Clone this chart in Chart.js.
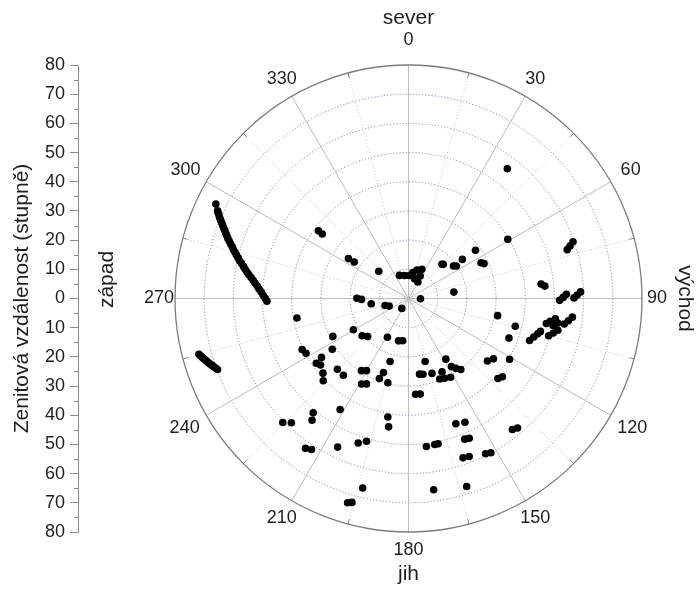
<!DOCTYPE html>
<html>
<head>
<meta charset="utf-8">
<script src="https://cdn.jsdelivr.net/npm/chart.js@4.4.0/dist/chart.umd.min.js"></script>
<style>
  html, body { margin: 0; padding: 0; background: #fff; }
</style>
</head>
<body>
<canvas id="plot" width="696" height="590"></canvas>
<script>
// azimuth (deg, 0 = sever, clockwise) and zenith distance (deg)
const track = [
  [296.1,73.5],
  [294.7,72.0],[294.3,71.6],[293.8,71.0],[293.2,70.4],[292.7,69.8],[292.1,69.1],[291.6,68.5],
  [291.0,67.9],[290.4,67.2],[289.7,66.5],[289.1,65.9],[288.4,65.2],[287.8,64.5],[287.1,63.8],
  [286.4,63.0],[285.6,62.3],[284.9,61.5],[284.2,60.8],[283.4,60.0],[282.6,59.3],[281.9,58.5],
  [281.0,57.6],[280.2,56.9],[279.3,56.1],[278.5,55.3],[277.6,54.4],[276.7,53.6],[275.7,52.8],
  [274.7,52.0],[273.6,51.3],[272.5,50.5],[271.3,49.8],[270.1,49.1],[268.9,48.5]
];
const streak = [
  [255.1,74.3],[254.6,73.9],[254.1,73.5],[253.6,73.1],[253.1,72.7],[252.6,72.3],
  [252.1,71.9],[251.6,71.5],[251.1,71.0],[250.6,70.6],[250.1,70.2],[249.6,69.8]
];
const dotsNorth = [
  [338.6,8.5],[350.0,8.0],[2.2,7.9],[9.6,9.0],[16.5,10.2],[24.7,11.0],[17.0,7.1],[29.7,6.5],[27.5,8.7],
  [37.3,55.9],[44.3,16.4],[45.5,16.7],[54.2,19.0],[55.8,19.8],[54.0,22.8],[54.2,28.3],
  [63.8,27.7],[65.2,28.5],[59.2,39.6],[72.9,56.9],[72.0,58.2],[71.0,59.6],
  [306.9,38.6],[306.8,36.9],[303.6,24.7],[303.9,22.4],[312.4,13.8]
];
const dotsEast = [
  [83.8,45.7],[84.8,46.9],[90.7,51.8],[89.6,53.0],[88.5,54.1],[89.8,56.7],[88.8,57.8],[87.8,59.0],
  [91.0,4.1],[82.0,15.7],[100.9,31.1],[104.6,37.8],[111.5,37.0],
  [100.3,48.0],[99.1,49.2],[97.9,50.8],[100.6,50.4],[99.3,51.8],[99.3,54.1],[97.9,55.3],[96.5,56.5],
  [104.9,49.7],[103.4,51.0],[102.0,52.3],[109.1,43.9],[107.1,44.9],[105.3,45.9],[104.0,46.6]
];
const dotsSouth = [
  [128.4,34.5],[125.4,35.7],[121.0,40.4],[131.8,41.1],[129.8,41.9],[141.6,57.3],[139.9,58.0],
  [153.6,59.4],[151.9,59.9],[162.8,67.4],[172.5,66.1],[161.1,57.7],[159.0,58.0],
  [158.2,51.9],[156.5,52.2],[159.3,45.9],[155.5,46.6],[173.1,51.1],[169.8,50.8],[168.5,50.8],
  [175.8,32.9],[173.0,33.0],[165.2,22.3],[148.4,24.4],[171.7,26.2],[169.2,26.4],[162.6,26.9],
  [155.4,27.6],[147.8,27.6],[145.9,28.9],[143.6,30.2],[158.8,29.6],[155.7,30.0],[151.9,30.6]
];
const dotsWest = [
  [214.0,4.1],[193.2,14.9],[187.8,14.6],[208.6,15.1],[253.3,8.4],[248.5,7.1],[262.0,12.9],
  [270.3,17.7],[268.9,16.1],[231.2,20.4],[227.1,19.1],[240.5,21.7],[243.4,29.0],[236.3,31.4],
  [260.1,38.8],[244.4,40.4],[241.9,39.8],[235.9,36.0],[234.9,38.6],[232.9,37.8],[228.9,38.9],
  [226.0,40.6],[225.1,34.4],[220.3,34.5],[213.1,29.5],[210.2,28.6],[208.8,33.4],[206.2,32.6],
  [198.7,26.8],[200.0,29.2],[193.8,29.7],[196.3,22.5],[211.6,44.7],[219.8,51.0],[218.4,53.2],
  [225.4,60.5],[223.3,58.5],[214.5,62.3],[212.7,61.5],[205.5,56.4],[199.2,52.4],[196.4,51.0],
  [189.9,41.2],[188.8,44.5],[193.6,66.8],[196.6,73.0],[195.5,72.5]
];

const angleLabels = [0, 30, 60, 90, 120, 150, 180, 210, 240, 270, 300, 330];
const ringValues = [10, 20, 30, 40, 50, 60, 70];
const zenMax = 80;
const yAxisTitle = 'Zenitová vzdálenost (stupně)';

// plot frame
const AREA_TOP = 65, AREA_BOTTOM = 532, AREA_LEFT = 78, AREA_RIGHT = 686, CENTER_X = 408.5;
const PX_PER_DEG = (AREA_BOTTOM - AREA_TOP) / (2 * zenMax);
const FONT = 'Arial, "Liberation Sans", sans-serif';
// distance of each angle label centre outside the rim (px)
const labelGap = [25, 20, 23, 15, 25, 20, 18, 20, 25, 16, 24, 20];

function toXY(list) {
    return list.map(p => {
        let a = p[0] * Math.PI / 180;
        return { x: p[1] * Math.sin(a), y: p[1] * Math.cos(a) };
    });
}

let allPoints = toXY([].concat(track, streak, dotsNorth, dotsEast, dotsSouth, dotsWest));

const polarGrid = {
    id: 'polarGrid',
    beforeDatasetsDraw(chart) {
        const { ctx, scales: { x, y } } = chart;
        const cx = x.getPixelForValue(0), cy = y.getPixelForValue(0);
        const k = cy - y.getPixelForValue(1);
        const R = zenMax * k;
        ctx.save();
        ctx.lineWidth = 1;
        ctx.setLineDash([1.2, 2]);
        ctx.strokeStyle = 'rgba(95,95,210,0.75)';
        ringValues.forEach(z => {
            ctx.beginPath();
            ctx.arc(cx, cy, z * k, 0, 2 * Math.PI);
            ctx.stroke();
        });
        ctx.strokeStyle = '#d2d2d2';
        for (let d = 15; d < 360; d += 30) {
            let a = d * Math.PI / 180;
            ctx.beginPath();
            ctx.moveTo(cx, cy);
            ctx.lineTo(cx + R * Math.sin(a), cy - R * Math.cos(a));
            ctx.stroke();
        }
        ctx.setLineDash([]);
        ctx.strokeStyle = '#bcbcbc';
        angleLabels.forEach(d => {
            let a = d * Math.PI / 180;
            ctx.beginPath();
            ctx.moveTo(cx, cy);
            ctx.lineTo(cx + R * Math.sin(a), cy - R * Math.cos(a));
            ctx.stroke();
        });
        ctx.strokeStyle = '#8a8a8a';
        for (let d = 15; d < 360; d += 30) {
            let a = d * Math.PI / 180;
            ctx.beginPath();
            ctx.moveTo(cx + R * Math.sin(a), cy - R * Math.cos(a));
            ctx.lineTo(cx + (R - 5) * Math.sin(a), cy - (R - 5) * Math.cos(a));
            ctx.stroke();
        }
        ctx.lineWidth = 1.3;
        ctx.strokeStyle = '#7c7c7c';
        ctx.beginPath();
        ctx.arc(cx, cy, R, 0, 2 * Math.PI);
        ctx.stroke();
        ctx.restore();
    },
    afterDraw(chart) {
        const { ctx, scales: { x, y } } = chart;
        const cx = x.getPixelForValue(0), cy = y.getPixelForValue(0);
        const R = cy - y.getPixelForValue(zenMax);
        ctx.save();
        // minor ticks on the zenith axis
        ctx.strokeStyle = '#8a8a8a';
        ctx.lineWidth = 1;
        for (let v = -75; v <= 75; v += 10) {
            let py = Math.round(y.getPixelForValue(v)) + 0.5;
            ctx.beginPath();
            ctx.moveTo(y.right - 4, py);
            ctx.lineTo(y.right, py);
            ctx.stroke();
        }
        ctx.fillStyle = '#1e1e1e';
        ctx.font = '18px ' + FONT;
        ctx.textAlign = 'center';
        ctx.textBaseline = 'middle';
        angleLabels.forEach((deg, i) => {
            let a = deg * Math.PI / 180;
            let d = R + labelGap[i];
            ctx.fillText(String(deg), cx + d * Math.sin(a), cy - d * Math.cos(a));
        });
        ctx.font = '21px ' + FONT;
        ctx.fillText('sever', cx, cy - R - 47);
        ctx.fillText('jih', cx, cy + R + 42);
        ctx.save();
        ctx.translate(107, cy - 19);
        ctx.rotate(-Math.PI / 2);
        ctx.fillText('západ', 0, 0);
        ctx.restore();
        ctx.save();
        ctx.translate(685, cy);
        ctx.rotate(Math.PI / 2);
        ctx.fillText('východ', 0, 0);
        ctx.restore();
        ctx.restore();
    }
};

let ctx = document.getElementById('plot').getContext('2d');
window.myChart = new Chart(ctx, {
    type: 'scatter',
    data: {
        datasets: [{
            label: 'pozice',
            data: allPoints,
            backgroundColor: '#000',
            borderColor: '#000',
            borderWidth: 0,
            pointRadius: 3.8,
            pointHoverRadius: 3.8
        }]
    },
    options: {
        responsive: false,
        animation: false,
        layout: {
            padding: { top: AREA_TOP, bottom: 590 - AREA_BOTTOM, left: 0, right: 696 - AREA_RIGHT }
        },
        plugins: {
            legend: { display: false },
            tooltip: { enabled: false }
        },
        scales: {
            x: {
                type: 'linear',
                display: false,
                min: -(CENTER_X - AREA_LEFT) / PX_PER_DEG,
                max: (AREA_RIGHT - CENTER_X) / PX_PER_DEG
            },
            y: {
                type: 'linear',
                position: 'left',
                min: -zenMax,
                max: zenMax,
                afterFit: scale => { scale.width = AREA_LEFT; },
                ticks: {
                    stepSize: 10,
                    padding: 5,
                    color: '#1e1e1e',
                    font: { family: FONT, size: 18 },
                    callback: v => Math.abs(v)
                },
                grid: {
                    drawOnChartArea: false,
                    drawTicks: true,
                    tickLength: 8,
                    tickColor: '#8a8a8a'
                },
                border: { display: true, color: '#8a8a8a' },
                title: {
                    display: true,
                    text: yAxisTitle,
                    color: '#1e1e1e',
                    font: { family: FONT, size: 21 },
                    padding: { top: 10, bottom: 0 }
                }
            }
        }
    },
    plugins: [polarGrid]
});
</script>
</body>
</html>
